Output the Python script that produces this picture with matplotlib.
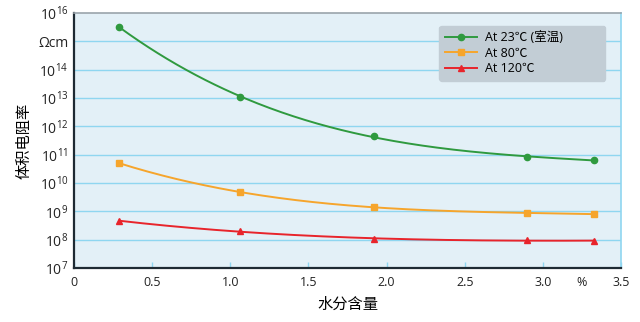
import numpy as np
import matplotlib
matplotlib.use("Agg")
import matplotlib.pyplot as plt
from matplotlib.ticker import FixedLocator, FixedFormatter

plt.rcParams['font.family'] = ['Open Sans', 'Noto Sans CJK SC', 'DejaVu Sans']
plt.rcParams['mathtext.fontset'] = 'custom'
plt.rcParams['mathtext.rm'] = 'Open Sans'
plt.rcParams['mathtext.it'] = 'Open Sans'

# moisture content (%) and volume resistivity (Ω·cm)
moisture = [0.29, 1.06, 1.92, 2.90, 3.33]
rho_23 = [3.2e15, 1.1e13, 4.5e11, 8.0e10, 6.5e10]
rho_80 = [5.0e10, 4.8e9, 1.4e9, 8.7e8, 8.0e8]
rho_120 = [4.6e8, 2.0e8, 1.05e8, 9.8e7, 9.0e7]

series_labels = ['At 23℃ (室温)', 'At 80℃', 'At 120℃']
colors = ['#2f9a3f', '#f6a52c', '#e8242b']
markers = ['o', 's', '^']

x_ticks = [0, 0.5, 1.0, 1.5, 2.0, 2.5, 3.0, 3.25, 3.5]
x_ticklabels = ['0', '0.5', '1.0', '1.5', '2.0', '2.5', '3.0', '%', '3.5']
y_exps = list(range(7, 17))
y_ticklabels = ['$10^{%d}$' % e if e != 15 else 'Ωcm' for e in y_exps]

fig = plt.figure(figsize=(6.4, 3.22), dpi=100)
ax = fig.add_axes([0.1156, 0.1677, 0.8547, 0.7919])
ax.set_facecolor('#e3f0f7')

ax.set_yscale('log')
ax.set_xlim(0, 3.5)
ax.set_ylim(1e7, 1e16)

for e in y_exps[1:-1]:
    ax.axhline(10.0 ** e, color='#8fd6f0', lw=1.0, zorder=1)

x = np.asarray(moisture)
xs = np.linspace(x[0], x[-1], 200)
for vals, c, m, lab in zip([rho_23, rho_80, rho_120], colors, markers, series_labels):
    ly = np.log10(vals)
    coef = np.polyfit(x, ly, 3)
    ax.plot(xs, 10 ** np.polyval(coef, xs), color=c, lw=1.4, zorder=3)
    ax.plot(x, vals, linestyle='none', marker=m, color=c, ms=4.5, zorder=4)
    ax.plot([], [], color=c, lw=1.4, marker=m, ms=4.5, label=lab)

ax.yaxis.set_major_locator(FixedLocator([10.0 ** e for e in y_exps]))
ax.yaxis.set_major_formatter(FixedFormatter(y_ticklabels))
ax.yaxis.set_minor_locator(FixedLocator([]))
ax.tick_params(axis='y', length=0, labelsize=10, pad=4, colors='#222222')

ax.xaxis.set_major_locator(FixedLocator(x_ticks))
ax.xaxis.set_major_formatter(FixedFormatter(x_ticklabels))
ax.tick_params(axis='x', direction='in', length=4, width=1, color='#8fd6f0',
               labelsize=9, pad=6, labelcolor='#222222')
ax.xaxis.get_major_ticks()[7].tick1line.set_visible(False)

for s in ['left', 'bottom']:
    ax.spines[s].set_color('#1e2a33')
    ax.spines[s].set_linewidth(1.6)
ax.spines['top'].set_color('#9aa4ab')
ax.spines['top'].set_linewidth(1.2)
ax.spines['right'].set_color('#8fd6f0')
ax.spines['right'].set_linewidth(1.2)

ax.set_xlabel('水分含量', fontsize=11, family=['Noto Sans CJK SC'], labelpad=5)
ax.set_ylabel('体积电阻率', fontsize=11, family=['Noto Sans CJK SC'], labelpad=4)

leg = ax.legend(loc='upper left', bbox_to_anchor=(0.656, 0.975, 0.327, 0.0),
                mode='expand', frameon=True, fancybox=True, handlelength=2.6,
                borderpad=0.45, labelspacing=0.2, handletextpad=0.6,
                prop={'family': ['Open Sans', 'Noto Sans CJK SC'], 'size': 9})
leg.get_frame().set_facecolor('#c2cdd5')
leg.get_frame().set_edgecolor('#c2cdd5')
leg.get_frame().set_alpha(1)

fig.savefig('out.png', dpi=100)
